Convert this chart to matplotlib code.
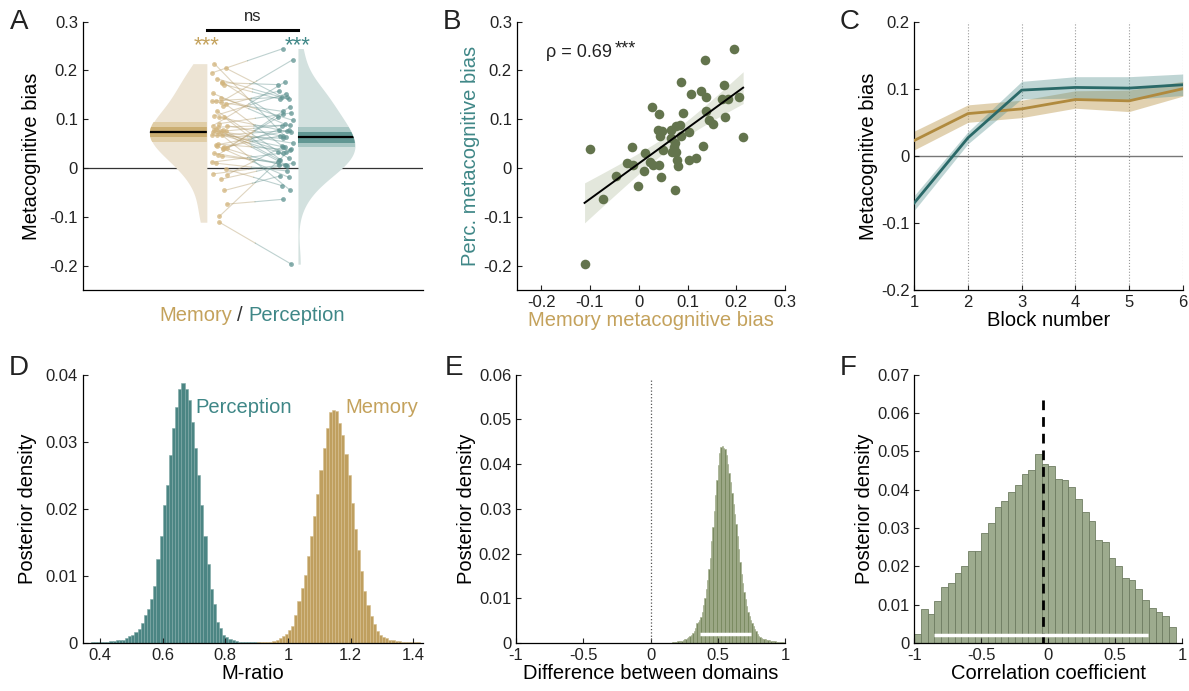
import numpy as np
import matplotlib
matplotlib.use("Agg")
import matplotlib.pyplot as plt

plt.rcParams['font.family'] = ['Liberation Sans', 'DejaVu Sans']
plt.rcParams['font.size'] = 12
plt.rcParams['axes.linewidth'] = 0.9
plt.rcParams['xtick.direction'] = 'in'
plt.rcParams['ytick.direction'] = 'in'
plt.rcParams['xtick.major.size'] = 3.5
plt.rcParams['ytick.major.size'] = 3.5
plt.rcParams['text.color'] = '#222222'
plt.rcParams['xtick.color'] = '#222222'
plt.rcParams['ytick.color'] = '#222222'

# ---- data: per-participant metacognitive bias (memory, perception) ----
mem_bias = [0.195, 0.135, 0.087, 0.175, 0.107, 0.128, 0.138, 0.171, 0.183, 0.205,
            0.027, 0.042, 0.091, 0.137, 0.144, 0.153, 0.177, 0.214, 0.039, 0.047,
            0.043, 0.067, 0.076, 0.084, 0.087, 0.104, 0.067, 0.075, 0.073, 0.068,
            0.077, 0.078, 0.081, 0.104, 0.117, 0.131, 0.049, -0.014, -0.099, 0.012,
            -0.023, -0.012, 0.024, 0.030, 0.042, 0.010, -0.046, 0.045, -0.002, 0.074,
            -0.074, -0.111]
perc_bias = [0.245, 0.222, 0.176, 0.171, 0.152, 0.158, 0.146, 0.141, 0.141, 0.146,
             0.126, 0.110, 0.113, 0.116, 0.098, 0.090, 0.104, 0.063, 0.079, 0.076,
             0.066, 0.077, 0.087, 0.088, 0.065, 0.073, 0.061, 0.051, 0.043, 0.033,
             0.033, 0.017, 0.005, 0.017, 0.020, 0.046, 0.037, 0.044, 0.040, 0.031,
             0.010, 0.007, 0.012, 0.007, 0.007, -0.006, -0.016, -0.019, -0.036, -0.045,
             -0.064, -0.197]

# ---- data: bias per block ----
blocks = [1, 2, 3, 4, 5, 6]
block_perc = [-0.070, 0.027, 0.098, 0.102, 0.101, 0.106]
block_perc_err = [0.011, 0.009, 0.013, 0.016, 0.017, 0.016]
block_mem = [0.023, 0.063, 0.070, 0.084, 0.082, 0.100]
block_mem_err = [0.014, 0.013, 0.013, 0.013, 0.016, 0.011]

# ---- data: posterior M-ratio histograms (bin width 0.01) ----
perc_mratio_start = 0.37
perc_mratio_dens = [0.0001, 0.0001, 0.0002, 0.0002, 0.0002, 0.0002, 0.0003, 0.0003, 0.0004, 0.0004,
                    0.0005, 0.0008, 0.0010, 0.0012, 0.0016, 0.0021, 0.0030, 0.0042, 0.0050, 0.0066,
                    0.0085, 0.0125, 0.0160, 0.0205, 0.0236, 0.0280, 0.0320, 0.0352, 0.0378, 0.0387,
                    0.0378, 0.0362, 0.0330, 0.0290, 0.0250, 0.0205, 0.0160, 0.0118, 0.0080, 0.0058,
                    0.0032, 0.0022, 0.0012, 0.0009, 0.0006, 0.0004, 0.0003, 0.0002, 0.0002, 0.0001,
                    0.0001, 0.0001, 0.0001, 0.0001]
mem_mratio_start = 0.90
mem_mratio_dens = [0.0001, 0.0001, 0.0001, 0.0002, 0.0002, 0.0003, 0.0005, 0.0007, 0.0010, 0.0013,
                   0.0019, 0.0026, 0.0042, 0.0062, 0.0082, 0.0102, 0.0130, 0.0160, 0.0190, 0.0222,
                   0.0258, 0.0290, 0.0320, 0.0345, 0.0348, 0.0346, 0.0328, 0.0310, 0.0282, 0.0250,
                   0.0208, 0.0170, 0.0138, 0.0108, 0.0078, 0.0056, 0.0040, 0.0028, 0.0018, 0.0012,
                   0.0009, 0.0007, 0.0005, 0.0004, 0.0003, 0.0003, 0.0002, 0.0002, 0.0002, 0.0001,
                   0.0001, 0.0001]

# ---- data: posterior of domain difference (bin width 0.01) ----
diff_start = 0.15
diff_dens = [0.0001, 0.0002, 0.0002, 0.0003, 0.0003, 0.0004, 0.0004, 0.0004, 0.0005, 0.0006,
             0.0008, 0.0010, 0.0011, 0.0013, 0.0015, 0.0018, 0.0022, 0.0026, 0.0034, 0.0044,
             0.0048, 0.0052, 0.0058, 0.0070, 0.0085, 0.0100, 0.0120, 0.0140, 0.0165, 0.0190,
             0.0228, 0.0260, 0.0295, 0.0330, 0.0365, 0.0398, 0.0425, 0.0438, 0.0440, 0.0437,
             0.0433, 0.0420, 0.0400, 0.0380, 0.0360, 0.0335, 0.0310, 0.0288, 0.0265, 0.0240,
             0.0210, 0.0180, 0.0155, 0.0135, 0.0115, 0.0098, 0.0082, 0.0070, 0.0060, 0.0052,
             0.0045, 0.0038, 0.0032, 0.0026, 0.0021, 0.0016, 0.0013, 0.0012, 0.0010, 0.0009,
             0.0008, 0.0007, 0.0006, 0.0006, 0.0005, 0.0004, 0.0004, 0.0004, 0.0003, 0.0003,
             0.0003, 0.0002, 0.0002, 0.0002, 0.0001]
diff_hdi = [0.37, 0.75]

# ---- data: posterior of correlation coefficient (bin width 0.05) ----
corr_start = -1.0
corr_dens = [0.0023, 0.0089, 0.0076, 0.0110, 0.0146, 0.0156, 0.0182, 0.0202, 0.0241, 0.0241,
             0.0286, 0.0312, 0.0354, 0.0371, 0.0395, 0.0411, 0.0441, 0.0451, 0.0494, 0.0467,
             0.0461, 0.0429, 0.0424, 0.0408, 0.0376, 0.0343, 0.0317, 0.0269, 0.0263, 0.0221,
             0.0202, 0.0169, 0.0165, 0.0140, 0.0111, 0.0091, 0.0082, 0.0071, 0.0042, 0.0]
corr_hdi = [-0.85, 0.74]
corr_mean = -0.037

# ---- colours ----
GOLD = '#c4a25c'
TEAL = '#3f8787'
GOLD_DARK = '#b08a3e'
TEAL_DARK = '#2a6968'
OLIVE = '#63744d'

fig = plt.figure(figsize=(11.89, 6.91), dpi=100)
top_b, row_h = 0.5803, 0.3883
bot_b = 0.0695
axA = fig.add_axes([0.0696, top_b, 0.2862, row_h])
axB = fig.add_axes([0.4346, top_b, 0.2257, row_h])
axC = fig.add_axes([0.7690, top_b, 0.2257, row_h])
axD = fig.add_axes([0.0696, bot_b, 0.2860, row_h])
axE = fig.add_axes([0.4340, bot_b, 0.2262, row_h])
axF = fig.add_axes([0.7690, bot_b, 0.2254, row_h])

for ax in [axA, axB, axC, axD, axE, axF]:
    ax.spines['top'].set_visible(False)
    ax.spines['right'].set_visible(False)

LABEL = 14.5


def kde(vals, grid):
    vals = np.asarray(vals)
    bw = 1.06 * vals.std(ddof=1) * len(vals) ** (-1 / 5)
    d = np.exp(-0.5 * ((grid[:, None] - vals[None, :]) / bw) ** 2).sum(axis=1)
    return d / d.max()


# ================= A =================
m = np.array(mem_bias)
p = np.array(perc_bias)
axA.set_xlim(0, 340)
axA.set_ylim(-0.25, 0.3)
axA.axhline(0, color='#333333', lw=0.9, zorder=1)

half_w = 57
m_edge, p_edge = 124, 215
for vals, edge, sign, fill, c_out, c_in in [
        (m, m_edge, -1, '#ede4d4', '#e0cda6', '#cbae72'),
        (p, p_edge, 1, '#d3e1df', '#a8c7c4', '#619793')]:
    grid = np.linspace(vals.min(), vals.max(), 200)
    w = kde(vals, grid) * half_w
    poly = axA.fill_betweenx(grid, edge, edge + sign * w, color=fill, lw=0, zorder=2)
    mu = vals.mean()
    sem = vals.std(ddof=1) / np.sqrt(len(vals))
    x0, x1 = sorted([edge, edge + sign * half_w])
    clip = poly.get_paths()[0]
    b1 = axA.fill_between([x0, x1], mu - 1.96 * sem, mu + 1.96 * sem, color=c_out, lw=0, zorder=3)
    b2 = axA.fill_between([x0, x1], mu - sem, mu + sem, color=c_in, lw=0, zorder=4)
    ln, = axA.plot([x0, x1], [mu, mu], color='black', lw=1.6, zorder=5)
    for art in (b1, b2, ln):
        art.set_clip_path(clip, axA.transData)

n = len(m)
jit = np.array([((i * 7) % 13) / 12.0 for i in range(n)])
mx = 129 + jit * 15
px = 194 + ((jit * 13 + 5) % 13) / 12.0 * 15
for i in range(n):
    xm_ = (mx[i] + px[i]) / 2
    ym_ = (m[i] + p[i]) / 2
    axA.plot([mx[i], xm_], [m[i], ym_], color='#b9a273', lw=0.8, alpha=0.45, zorder=6)
    axA.plot([xm_, px[i]], [ym_, p[i]], color='#6f9a97', lw=0.8, alpha=0.45, zorder=6)
axA.scatter(mx, m, s=12, color='#d2b47c', alpha=0.75, lw=0, zorder=7)
axA.scatter(px, p, s=12, color='#5f9391', alpha=0.75, lw=0, zorder=7)

axA.plot([m_edge, p_edge], [0.284, 0.284], color='black', lw=2.2, clip_on=False)
axA.text((m_edge + p_edge) / 2, 0.296, 'ns', ha='center', va='bottom', fontsize=12, clip_on=False)
axA.text(m_edge, 0.250, '***', ha='center', va='center', fontsize=16, color=GOLD, clip_on=False)
axA.text(p_edge, 0.250, '***', ha='center', va='center', fontsize=16, color=TEAL, clip_on=False)

axA.set_xticks([])
axA.set_yticks([-0.2, -0.1, 0, 0.1, 0.2, 0.3])
axA.set_yticklabels(['-0.2', '-0.1', '0', '0.1', '0.2', '0.3'])
axA.set_ylabel('Metacognitive bias', fontsize=LABEL, labelpad=6)
axA.text(149, -0.094, 'Memory', transform=axA.get_xaxis_transform(), ha='right', va='center',
         fontsize=LABEL, color=GOLD)
axA.text(157, -0.094, '/', transform=axA.get_xaxis_transform(), ha='center', va='center',
         fontsize=LABEL, color='#333333')
axA.text(165, -0.094, 'Perception', transform=axA.get_xaxis_transform(), ha='left', va='center',
         fontsize=LABEL, color=TEAL)

# ================= B =================
axB.set_xlim(-0.25, 0.3)
axB.set_ylim(-0.25, 0.3)
slope, icpt = np.polyfit(m, p, 1)
xs = np.linspace(m.min(), m.max(), 100)
resid = p - (slope * m + icpt)
s = np.sqrt((resid ** 2).sum() / (n - 2))
sxx = ((m - m.mean()) ** 2).sum()
se = s * np.sqrt(1 / n + (xs - m.mean()) ** 2 / sxx)
yfit = slope * xs + icpt
axB.fill_between(xs, yfit - 2.01 * se, yfit + 2.01 * se, color='#e3e7dc', lw=0, zorder=1)
axB.scatter(m, p, s=48, color=OLIVE, lw=0, zorder=2)
axB.plot(xs, yfit, color='black', lw=1.4, zorder=3)
axB.text(-0.19, 0.236, 'ρ = 0.69', ha='left', va='center', fontsize=13)
axB.text(-0.050, 0.244, '***', ha='left', va='center', fontsize=13)
axB.set_xticks([-0.2, -0.1, 0, 0.1, 0.2, 0.3])
axB.set_xticklabels(['-0.2', '-0.1', '0', '0.1', '0.2', '0.3'])
axB.set_yticks([-0.2, -0.1, 0, 0.1, 0.2, 0.3])
axB.set_yticklabels(['-0.2', '-0.1', '0', '0.1', '0.2', '0.3'])
axB.set_xlabel('Memory metacognitive bias', fontsize=LABEL, color=GOLD, labelpad=1)
axB.set_ylabel('Perc. metacognitive bias', fontsize=LABEL, color=TEAL, labelpad=2)

# ================= C =================
axC.set_xlim(1, 6)
axC.set_ylim(-0.2, 0.2)
for b in blocks[1:]:
    axC.axvline(b, color='#999999', lw=0.8, ls=':', zorder=0)
axC.axhline(0, color='#777777', lw=1.0, zorder=1)
bm = np.array(block_mem)
bme = np.array(block_mem_err)
bp = np.array(block_perc)
bpe = np.array(block_perc_err)
axC.fill_between(blocks, bm - bme, bm + bme, color='#c4a462', alpha=0.5, lw=0, zorder=2)
axC.fill_between(blocks, bp - bpe, bp + bpe, color='#5f9795', alpha=0.4, lw=0, zorder=3)
axC.plot(blocks, bm, color=GOLD_DARK, lw=2, zorder=4)
axC.plot(blocks, bp, color=TEAL_DARK, lw=2, zorder=5)
axC.set_xticks(blocks)
axC.set_yticks([-0.2, -0.1, 0, 0.1, 0.2])
axC.set_yticklabels(['-0.2', '-0.1', '0', '0.1', '0.2'])
axC.set_xlabel('Block number', fontsize=LABEL, labelpad=1)
axC.set_ylabel('Metacognitive bias', fontsize=LABEL, labelpad=2)

# ================= D =================
pe = perc_mratio_start + 0.01 * np.arange(len(perc_mratio_dens))
me = mem_mratio_start + 0.01 * np.arange(len(mem_mratio_dens))
axD.bar(pe, perc_mratio_dens, width=0.01, align='edge', color='#4b8583',
        edgecolor='#7fa9a6', linewidth=0.4)
axD.bar(me, mem_mratio_dens, width=0.01, align='edge', color='#bf9f5f',
        edgecolor='#d6bf8e', linewidth=0.4)
axD.set_xlim(0.345, 1.43)
axD.set_ylim(0, 0.04)
axD.set_xticks([0.4, 0.6, 0.8, 1.0, 1.2, 1.4])
axD.set_xticklabels(['0.4', '0.6', '0.8', '1', '1.2', '1.4'])
axD.set_yticks([0, 0.01, 0.02, 0.03, 0.04])
axD.set_yticklabels(['0', '0.01', '0.02', '0.03', '0.04'])
axD.text(0.703, 0.0351, 'Perception', color=TEAL, fontsize=LABEL, ha='left', va='center')
axD.text(1.182, 0.0351, 'Memory', color=GOLD, fontsize=LABEL, ha='left', va='center')
axD.set_xlabel('M-ratio', fontsize=LABEL, labelpad=1)
axD.set_ylabel('Posterior density', fontsize=LABEL, labelpad=6)

# ================= E =================
de = diff_start + 0.01 * np.arange(len(diff_dens))
axE.bar(de, diff_dens, width=0.01, align='edge', color='#7b8b62',
        edgecolor='#a2ae8c', linewidth=0.4)
axE.plot([0, 0], [0, 0.059], color='#555555', lw=0.9, ls=':')
axE.plot(diff_hdi, [0.002, 0.002], color='white', lw=2.5, solid_capstyle='butt')
axE.set_xlim(-1, 1)
axE.set_ylim(0, 0.06)
axE.set_xticks([-1, -0.5, 0, 0.5, 1])
axE.set_xticklabels(['-1', '-0.5', '0', '0.5', '1'])
axE.set_yticks([0, 0.01, 0.02, 0.03, 0.04, 0.05, 0.06])
axE.set_yticklabels(['0', '0.01', '0.02', '0.03', '0.04', '0.05', '0.06'])
axE.set_xlabel('Difference between domains', fontsize=LABEL, labelpad=1)
axE.set_ylabel('Posterior density', fontsize=LABEL, labelpad=2)

# ================= F =================
ce = corr_start + 0.05 * np.arange(len(corr_dens))
axF.bar(ce, corr_dens, width=0.05, align='edge', color='#9dab8e',
        edgecolor='#6f7d62', linewidth=0.6)
axF.plot([corr_mean, corr_mean], [0, 0.064], color='black', lw=2, ls=(0, (3.5, 2.5)))
axF.plot(corr_hdi, [0.002, 0.002], color='white', lw=2.5, solid_capstyle='butt')
axF.set_xlim(-1, 1)
axF.set_ylim(0, 0.07)
axF.set_xticks([-1, -0.5, 0, 0.5, 1])
axF.set_xticklabels(['-1', '-0.5', '0', '0.5', '1'])
axF.set_yticks([0, 0.01, 0.02, 0.03, 0.04, 0.05, 0.06, 0.07])
axF.set_yticklabels(['0', '0.01', '0.02', '0.03', '0.04', '0.05', '0.06', '0.07'])
axF.set_xlabel('Correlation coefficient', fontsize=LABEL, labelpad=1)
axF.set_ylabel('Posterior density', fontsize=LABEL, labelpad=2)

# panel letters
for lbl, x, y in [('A', 10, 22), ('B', 443, 22), ('C', 840, 22),
                  ('D', 9, 368), ('E', 445, 368), ('F', 840, 368)]:
    fig.text(x / 1189, 1 - y / 691, lbl, fontsize=20, ha='left', va='center')

fig.savefig('out.png', dpi=100)
